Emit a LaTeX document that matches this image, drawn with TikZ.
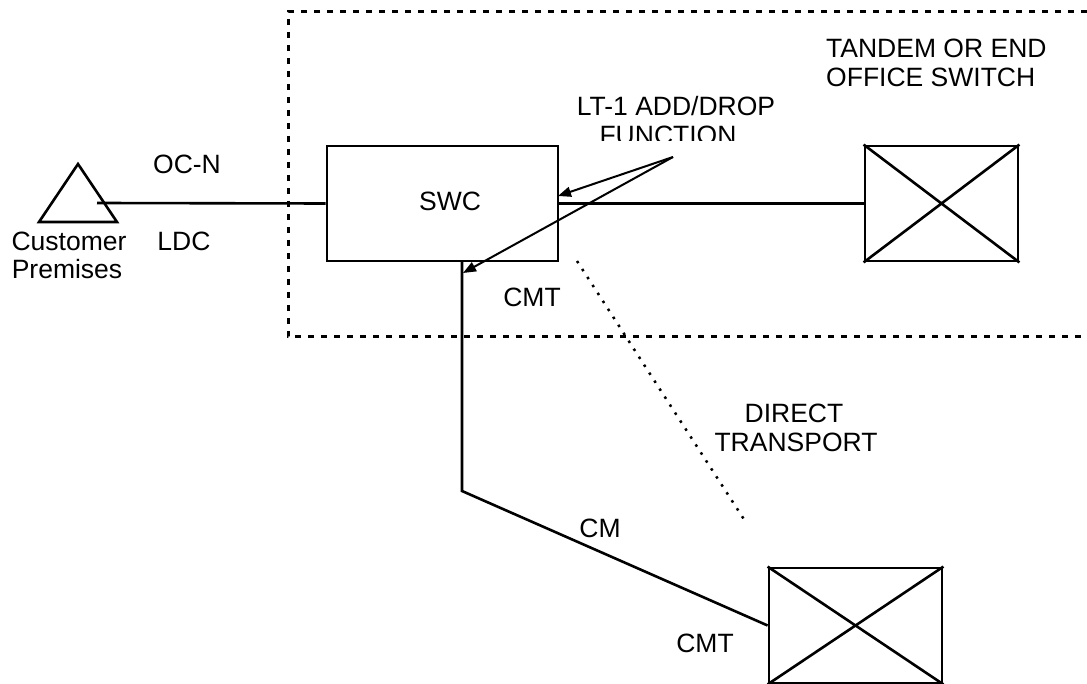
\documentclass[tikz,border=0pt]{standalone}
\usepackage{fontspec}
\setmainfont{Liberation Sans}
\usetikzlibrary{arrows.meta}
\begin{document}
\begin{tikzpicture}[x=1pt,y=-1pt,
  ln/.style={line width=2.6pt},
  box/.style={draw,line width=2.8pt,minimum width=#1,minimum height=115pt,inner sep=0pt},
  txt/.style={anchor=base,inner sep=0pt,font=\fontsize{26.5}{29}\selectfont},
  ptr/.style={line width=2pt,-{Triangle[length=13pt,width=10pt]}},
  officebox/.style={line width=3pt,dash pattern=on 6pt off 7pt},
  dotline/.style={line width=2.5pt,dash pattern=on 2.5pt off 7pt}]
\useasboundingbox (0,0) rectangle (1087,684);
% office boundary
\draw[officebox] (1087,12) -- (288,12) -- (288,337) -- (1087,337);
% customer premises triangle
\coordinate (tA) at (78,164);
\coordinate (tL) at (39,222);
\coordinate (tR) at (117,222);
\draw[ln,line join=miter] (tA) -- (tL) -- (tR) -- cycle;
\coordinate (cp) at (97,203);
% SWC
\node[box=231pt] (swc) at (442.5,203.5) {};
\node[txt] (swclbl) at (450,211) {SWC};
% tandem switch
\node[box=153pt] (tsw) at (941.5,203.5) {};
\draw[ln] (tsw.north west) -- (tsw.south east) (tsw.south west) -- (tsw.north east);
% remote CMT
\node[box=173pt] (rsw) at (855.5,625.5) {};
\draw[ln] (rsw.north west) -- (rsw.south east) (rsw.south west) -- (rsw.north east);
% connectors
\draw[ln] (cp) -- (swc.west);
\draw[ln] (swc.east) -- (tsw.west);
\coordinate (vtop) at (462,261);
\coordinate (vbot) at (462,491);
\draw[ln,line join=miter] (vtop) -- (vbot) -- (rsw.west);
% direct transport dotted line
\coordinate (d1) at (577,261);
\coordinate (d2) at (747,524);
\draw[dotline] (d1) -- (d2);
% LT-1 pointers
\coordinate (lt) at (673,157);
\coordinate (tip1) at (558,196);
\coordinate (tip2) at (463,273);
\draw[ptr] (lt) -- (tip1);
\draw[ptr] (lt) -- (tip2);
% labels
\node[txt] (ocn) at (187,174) {OC-N};
\node[txt] (ldc) at (184,251) {LDC};
\node[txt] (cust) at (69,251) {Customer};
\node[txt] (prem) at (67,279) {Premises};
\node[txt] (cmt1) at (532,307) {CMT};
\node[txt,anchor=base west] (tand1) at (826,58) {TANDEM OR END};
\node[txt,anchor=base west] (tand2) at (826,87) {OFFICE SWITCH};
\node[txt] (lt1) at (676,116) {LT-1 ADD/DROP};
\begin{scope}
\clip (560,90) rectangle (800,141);
\node[txt] (fn) at (668,145) {FUNCTION};
\end{scope}
\node[txt] (dir) at (794,422) {DIRECT};
\node[txt] (trn) at (796,451) {TRANSPORT};
\node[txt] (cm) at (600,537) {CM};
\node[txt] (cmt2) at (705,652) {CMT};
\end{tikzpicture}
\end{document}
